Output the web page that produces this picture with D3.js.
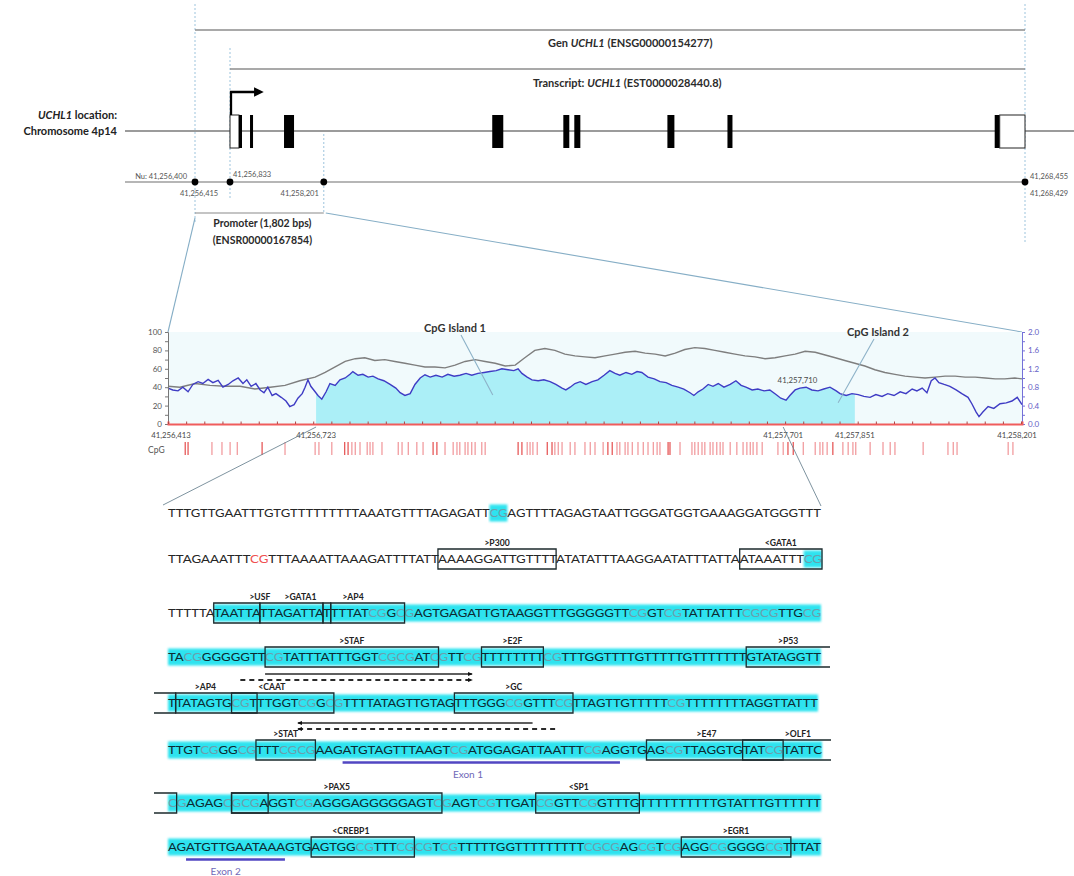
<!DOCTYPE html>
<html>
<head>
<meta charset="utf-8">
<script src="https://cdn.jsdelivr.net/npm/d3@7/dist/d3.min.js"></script>
<style>
  html, body { margin: 0; padding: 0; background: #fff; }
  svg { display: block; font-family: Lato, "Open Sans", "DejaVu Sans", sans-serif; }
</style>
</head>
<body>
<svg id="fig" width="1074" height="876" viewBox="0 0 1074 876"></svg>
<script>
// ---------------- UCHL1 gene model (chr4, bp) ----------------
const geneBounds = [41256415, 41268429];
const tssStart = 41256833;
const promoterBounds = [41256415, 41258201];
const exonStarts = [41256833, 41256964, 41257125, 41257621, 41260658, 41261695, 41261855, 41263213, 41264089, 41267987, 41268060];
const exonEnds   = [41256964, 41257008, 41257169, 41257767, 41260819, 41261782, 41261943, 41263315, 41264162, 41268060, 41268429];
const exonCoding = [false, true, true, true, true, true, true, true, true, true, false];

// ---------------- CpG profile of the promoter (offsets from 41,256,413) ----------------
const regionStart = 41256413;
const regionLength = 1788;
const islands = [[310, 1288], [1297, 1438]];
const axisPositions = [0, 310, 1288, 1438, 1788];
const gcPos = [0, 25, 57, 88, 119, 151, 182, 214, 245, 276, 308, 329, 350, 371, 392, 412, 433, 454, 475, 496, 517, 538, 559, 580, 601, 622, 643, 664, 685, 706, 727, 747, 768, 789, 810, 831, 852, 873, 894, 915, 936, 957, 978, 999, 1020, 1041, 1062, 1082, 1103, 1124, 1145, 1166, 1187, 1208, 1229, 1250, 1271, 1292, 1313, 1334, 1355, 1376, 1397, 1417, 1438, 1459, 1480, 1501, 1522, 1543, 1564, 1585, 1606, 1627, 1648, 1669, 1690, 1711, 1732, 1752, 1773, 1788];
const gcPercent = [41, 40, 44, 42, 41, 41, 38, 40, 42, 47, 51, 56, 62, 68, 71, 72, 69, 70, 68, 66, 64, 62, 62, 61, 64, 68, 70, 68, 66, 63, 64, 72, 80, 82, 80, 76, 74, 73, 72, 74, 76, 78, 79, 77, 76, 74, 77, 81, 83, 82, 80, 78, 76, 74, 73, 71, 72, 74, 76, 79, 78, 75, 72, 69, 66, 63, 59, 56, 54, 52, 51, 50, 51, 52, 52, 51, 51, 50, 49, 49, 50, 49];
const oePos = [0, 10, 21, 31, 42, 52, 63, 73, 84, 94, 105, 115, 126, 136, 147, 157, 165, 174, 184, 193, 201, 209, 218, 226, 237, 247, 255, 264, 272, 281, 287, 293, 299, 308, 314, 322, 331, 339, 350, 360, 371, 381, 387, 398, 408, 419, 429, 440, 452, 465, 477, 486, 496, 507, 517, 528, 538, 549, 561, 574, 586, 599, 611, 624, 636, 649, 662, 674, 687, 699, 712, 724, 733, 741, 752, 762, 775, 787, 800, 812, 825, 833, 842, 852, 863, 875, 888, 900, 913, 925, 936, 946, 959, 971, 982, 992, 1005, 1018, 1030, 1043, 1055, 1068, 1080, 1093, 1101, 1110, 1120, 1131, 1141, 1152, 1164, 1177, 1189, 1200, 1210, 1223, 1235, 1248, 1260, 1273, 1283, 1294, 1302, 1313, 1323, 1336, 1348, 1361, 1373, 1386, 1399, 1407, 1420, 1432, 1445, 1457, 1470, 1482, 1495, 1507, 1520, 1533, 1545, 1558, 1568, 1579, 1589, 1598, 1606, 1614, 1625, 1637, 1650, 1662, 1675, 1683, 1692, 1698, 1706, 1717, 1729, 1742, 1755, 1767, 1778, 1788];
const oeRatio = [0.78, 0.74, 0.72, 0.80, 0.70, 0.86, 0.92, 0.88, 0.97, 0.90, 0.95, 0.80, 0.86, 0.94, 1.00, 0.88, 0.96, 0.82, 0.88, 0.74, 0.68, 0.80, 0.62, 0.66, 0.58, 0.50, 0.38, 0.42, 0.56, 0.66, 0.80, 0.96, 0.82, 0.70, 0.62, 0.54, 0.70, 0.88, 0.84, 0.96, 1.00, 1.08, 1.14, 1.06, 1.08, 1.02, 1.04, 0.98, 0.94, 0.86, 0.78, 0.68, 0.62, 0.66, 0.86, 1.00, 1.07, 1.02, 1.06, 1.02, 1.08, 1.04, 1.06, 1.10, 1.06, 1.10, 1.12, 1.14, 1.16, 1.20, 1.18, 1.16, 1.20, 1.10, 1.02, 0.96, 0.94, 0.96, 0.92, 0.86, 0.78, 0.74, 0.80, 0.88, 0.92, 0.86, 0.92, 0.96, 1.06, 1.16, 1.10, 1.06, 1.12, 1.08, 1.14, 1.12, 1.02, 0.98, 0.92, 0.90, 0.84, 0.80, 0.76, 0.68, 0.62, 0.70, 0.76, 0.86, 0.82, 0.88, 0.80, 0.86, 0.94, 0.84, 0.80, 0.74, 0.76, 0.72, 0.74, 0.64, 0.56, 0.52, 0.62, 0.74, 0.78, 0.80, 0.74, 0.72, 0.76, 0.80, 0.72, 0.66, 0.62, 0.66, 0.64, 0.60, 0.58, 0.64, 0.60, 0.66, 0.62, 0.70, 0.66, 0.76, 0.72, 0.78, 0.68, 0.94, 1.00, 0.90, 0.86, 0.82, 0.74, 0.66, 0.58, 0.44, 0.26, 0.16, 0.26, 0.38, 0.34, 0.44, 0.46, 0.50, 0.58, 0.42];
const cpgSites = [36, 42, 92, 113, 130, 145, 197, 245, 308, 316, 343, 370, 377, 385, 392, 402, 417, 423, 429, 448, 482, 490, 503, 521, 534, 555, 563, 580, 597, 605, 611, 622, 628, 636, 643, 657, 664, 733, 741, 752, 758, 764, 773, 794, 804, 810, 817, 825, 842, 852, 873, 884, 894, 911, 921, 930, 940, 946, 957, 963, 972, 984, 995, 1005, 1016, 1024, 1030, 1047, 1051, 1072, 1097, 1103, 1110, 1118, 1124, 1135, 1141, 1149, 1156, 1162, 1177, 1191, 1204, 1212, 1219, 1225, 1233, 1244, 1277, 1288, 1298, 1309, 1330, 1355, 1365, 1371, 1380, 1392, 1413, 1424, 1434, 1440, 1470, 1497, 1512, 1522, 1581, 1633, 1644, 1652, 1759, 1769];
const strongSites = [1047, 1051, 1298, 1309, 1392, 36, 42, 197, 370, 377, 555, 563, 733, 741, 794, 804, 921, 930];
const islandNames = ["CpG Island 1", "CpG Island 2"];
const islandPointers = [[680, 0.63], [1403, 0.46]];

// ---------------- bisulfite-converted sequence of CpG island 1 ----------------
const seqRows = [
  "TTTGTTGAATTTGTGTTTTTTTTTAAATGTTTTAGAGATTCGAGTTTTAGAGTAATTGGGATGGTGAAAGGATGGGTTT",
  "TTAGAAATTTCGTTTAAAATTAAAGATTTTATTAAAAGGATTGTTTTATATATTTAAGGAATATTTATTAATAAATTTCG",
  "TTTTTATAATTATTAGATTATTTTATCGGCGAGTGAGATTGTAAGGTTTGGGGGTTCGGTCGTATTATTTCGCGTTGCG",
  "TACGGGGGGTTCGTATTTATTTGGTCGCGATCGTTCGTTTTTTTTCGTTTGGTTTTGTTTTTGTTTTTTTGTATAGGTT",
  "TTATAGTGCGTTTGGTCGGCGTTTTATAGTTGTAGTTTGGGCGGTTTCGTTAGTTGTTTTTCGTTTTTTTTAGGTTATTT",
  "TTGTCGGGCGTTTCGCGAAGATGTAGTTTAAGTCGATGGAGATTAATTTCGAGGTGAGCGTTAGGTGTATCGTATTC",
  "CGAGAGCGCGAGGTCGAGGGAGGGGGAGTCGAGTCGTTGATCGGTTCGGTTTGTTTTTTTTTTGTATTTGTTTTTT",
  "AGATGTTGAATAAAGTGAGTGGCGTTTCGCGTCGTTTTTGGTTTTTTTTTCGCGAGCGTCGAGGCGGGGGCGTTTAT"
];
const shadeRanges = [[[40, 42]], [[78, 80]], [[6, 79]], [[0, 79]], [[0, 80]], [[0, 77]], [[0, 76]], [[0, 77]]];
const motifs = [
  { row: 1, from: 33, to: 47, name: ">P300" },
  { row: 1, from: 70, to: 80, name: "<GATA1" },
  { row: 2, from: 6, to: 12, name: ">USF", at: 12 },
  { row: 2, from: 12, to: 20, name: ">GATA1", at: 17 },
  { row: 2, from: 20, to: 21, name: "" },
  { row: 2, from: 21, to: 30, name: ">AP4", at: 24 },
  { row: 3, from: 11, to: 32, name: ">STAF" },
  { row: 3, from: 37, to: 45, name: ">E2F" },
  { row: 3, from: 70, to: 79, name: ">P53", open: "right" },
  { row: 4, from: 0, to: 1, name: "", open: "left" },
  { row: 4, from: 1, to: 11, name: ">AP4", at: 5 },
  { row: 4, from: 8, to: 20, name: "<CAAT", at: 13 },
  { row: 4, from: 35, to: 49, name: ">GC" },
  { row: 5, from: 10, to: 17, name: ">STAT" },
  { row: 5, from: 56, to: 72, name: ">E47", at: 63 },
  { row: 5, from: 67, to: 77, name: ">OLF1", open: "right", at: 74 },
  { row: 6, from: 0, to: 1, name: "", open: "left" },
  { row: 6, from: 7, to: 11, name: "" },
  { row: 6, from: 7, to: 30, name: ">PAX5" },
  { row: 6, from: 41, to: 53, name: "<SP1", at: 46 },
  { row: 7, from: 17, to: 29, name: "<CREBP1", at: 21.5 },
  { row: 7, from: 61, to: 73, name: ">EGR1" }
];
const primers = [
  { row: 3, from: 11, to: 36, dashed: false, dir: "right" },
  { row: 3, from: 8, to: 36, dashed: true, dir: "right" },
  { row: 4, from: 16, to: 44, dashed: false, dir: "left" },
  { row: 4, from: 16, to: 47, dashed: true, dir: "left" }
];
const exonMarks = [
  { row: 5, from: 20, to: 53, name: "Exon 1", at: 35 },
  { row: 7, from: 2, to: 14, name: "Exon 2", at: 7 }
];

// ============================================================
const svg = d3.select("#fig");
const defs = svg.append("defs");
defs.append("marker").attr("id", "tssHead").attr("viewBox", "0 0 10 10")
  .attr("refX", 2).attr("refY", 5).attr("markerWidth", 4.2).attr("markerHeight", 4.2)
  .attr("orient", "auto").attr("markerUnits", "strokeWidth")
  .append("path").attr("d", "M0,0 L10,5 L0,10 z").attr("fill", "#000");
defs.append("marker").attr("id", "primerHead").attr("viewBox", "0 0 10 10")
  .attr("refX", 8).attr("refY", 5).attr("markerWidth", 5).attr("markerHeight", 5)
  .attr("orient", "auto-start-reverse").attr("markerUnits", "userSpaceOnUse")
  .append("path").attr("d", "M0,1 L10,5 L0,9 z").attr("fill", "#111");
defs.append("filter").attr("id", "soft").attr("x", "-5%").attr("y", "-40%").attr("width", "110%").attr("height", "180%")
  .append("feGaussianBlur").attr("stdDeviation", 0.9);

const fmt = d3.format(",");

// ---------------- gene track ----------------
const xG = d3.scaleLinear().domain([geneBounds[0], tssStart, geneBounds[1]]).range([195, 230, 1025]);
const guide = svg.append("g").attr("stroke", "#9dc4dd").attr("stroke-width", 1).attr("stroke-dasharray", "2,2");
guide.append("line").attr("x1", xG(geneBounds[0])).attr("x2", xG(geneBounds[0])).attr("y1", 4).attr("y2", 222);
guide.append("line").attr("x1", xG(tssStart)).attr("x2", xG(tssStart)).attr("y1", 48).attr("y2", 200);
guide.append("line").attr("x1", xG(promoterBounds[1])).attr("x2", xG(promoterBounds[1])).attr("y1", 134).attr("y2", 212);
guide.append("line").attr("x1", xG(geneBounds[1])).attr("x2", xG(geneBounds[1])).attr("y1", 4).attr("y2", 244);

svg.append("line").attr("x1", xG(geneBounds[0])).attr("x2", xG(geneBounds[1])).attr("y1", 30).attr("y2", 30)
  .attr("stroke", "#8d8d8d").attr("stroke-width", 1.6);
svg.append("line").attr("x1", xG(tssStart)).attr("x2", xG(geneBounds[1])).attr("y1", 69).attr("y2", 69)
  .attr("stroke", "#8d8d8d").attr("stroke-width", 1.6);

const geneTitle = svg.append("text").attr("x", 548).attr("y", 47).attr("font-size", 11).attr("font-weight", 700).attr("fill", "#2b2b2b");
geneTitle.append("tspan").text("Gen ");
geneTitle.append("tspan").attr("font-style", "italic").text("UCHL1");
geneTitle.append("tspan").text(" (ENSG00000154277)");
const txTitle = svg.append("text").attr("x", 533).attr("y", 87).attr("font-size", 11).attr("font-weight", 700).attr("fill", "#2b2b2b");
txTitle.append("tspan").text("Transcript: ");
txTitle.append("tspan").attr("font-style", "italic").text("UCHL1");
txTitle.append("tspan").text(" (EST0000028440.8)");

const locLabel = svg.append("g").attr("font-size", 11).attr("font-weight", 700).attr("fill", "#222").attr("text-anchor", "end");
const l1 = locLabel.append("text").attr("x", 117).attr("y", 119);
l1.append("tspan").attr("font-style", "italic").text("UCHL1");
l1.append("tspan").text(" location:");
locLabel.append("text").attr("x", 117).attr("y", 135).text("Chromosome 4p14");

svg.append("line").attr("x1", 125).attr("x2", 1074).attr("y1", 131).attr("y2", 131).attr("stroke", "#7a7a7a").attr("stroke-width", 1.3);

svg.append("g").selectAll("rect").data(exonStarts).join("rect")
  .attr("x", (d) => xG(d))
  .attr("width", (d, i) => Math.max(xG(exonEnds[i]) - xG(d), 2.6))
  .attr("y", 115).attr("height", 33)
  .attr("fill", (d, i) => exonCoding[i] ? "#000" : "#fff")
  .attr("stroke", (d, i) => exonCoding[i] ? "none" : "#222").attr("stroke-width", 1);

svg.append("path")
  .attr("d", `M${xG(tssStart) + 1},115 V92 H${xG(tssStart) + 26}`)
  .attr("fill", "none").attr("stroke", "#000").attr("stroke-width", 2.3)
  .attr("marker-end", "url(#tssHead)");

// coordinate line with markers
svg.append("line").attr("x1", 125).attr("x2", xG(geneBounds[1])).attr("y1", 182).attr("y2", 182)
  .attr("stroke", "#6e6e6e").attr("stroke-width", 1.2);
const markPos = [geneBounds[0], tssStart, promoterBounds[1], geneBounds[1]];
svg.append("g").selectAll("circle").data(markPos).join("circle")
  .attr("cx", (d) => xG(d)).attr("cy", 182).attr("r", 3.4).attr("fill", "#000");
const cl = svg.append("g").attr("font-size", 7.5).attr("fill", "#555");
cl.append("text").attr("x", xG(geneBounds[0]) - 8).attr("y", 179).attr("text-anchor", "end").text("Nu: " + fmt(geneBounds[0] - 15));
cl.append("text").attr("x", xG(geneBounds[0]) - 15).attr("y", 196).text(fmt(geneBounds[0]));
cl.append("text").attr("x", xG(tssStart) + 3).attr("y", 177).text(fmt(tssStart));
cl.append("text").attr("x", xG(promoterBounds[1]) - 5).attr("y", 196).attr("text-anchor", "end").text(fmt(promoterBounds[1]));
cl.append("text").attr("x", xG(geneBounds[1]) + 5).attr("y", 179).text(fmt(geneBounds[1] + 26));
cl.append("text").attr("x", xG(geneBounds[1]) + 5).attr("y", 196).text(fmt(geneBounds[1]));

// promoter bracket
svg.append("line").attr("x1", xG(promoterBounds[0])).attr("x2", xG(promoterBounds[1])).attr("y1", 213).attr("y2", 213)
  .attr("stroke", "#8a8a8a").attr("stroke-width", 1.2);
const promMid = (xG(promoterBounds[0]) + xG(promoterBounds[1])) / 2;
const pl = svg.append("g").attr("font-size", 10.5).attr("font-weight", 700).attr("fill", "#2a2a2a").attr("text-anchor", "middle");
pl.append("text").attr("x", promMid + 3).attr("y", 227).text(`Promoter (${fmt(promoterBounds[1] - promoterBounds[0] + 16)} bps)`);
pl.append("text").attr("x", promMid + 3).attr("y", 244).text("(ENSR00000167854)");

// ---------------- CpG profile ----------------
const px = d3.scaleLinear().domain([0, regionLength]).range([168, 1022]);
const yL = d3.scaleLinear().domain([0, 100]).range([424, 332]);
const yR = d3.scaleLinear().domain([0, 2]).range([424, 332]);

// zoom connectors from the promoter to the profile
const zoomLines = svg.append("g").attr("stroke", "#86aec6").attr("stroke-width", 1.1).attr("fill", "none");
zoomLines.append("line").attr("x1", xG(promoterBounds[0])).attr("y1", 218).attr("x2", px(0)).attr("y2", yL(100));
zoomLines.append("line").attr("x1", xG(promoterBounds[1]) + 2).attr("y1", 213).attr("x2", px(regionLength)).attr("y2", yL(100));

svg.append("rect").attr("x", px(0)).attr("y", yL(100)).attr("width", px(regionLength) - px(0)).attr("height", yL(0) - yL(100))
  .attr("fill", "#f1fafc");

const islandClip = defs.append("clipPath").attr("id", "islandClip");
islandClip.append("rect").attr("x", px(islands[0][0])).attr("y", yL(100))
  .attr("width", px(islands[1][1]) - px(islands[0][0])).attr("height", yL(0) - yL(100));

const oeData = oePos.map((p, i) => [p, oeRatio[i]]);
const gcData = gcPos.map((p, i) => [p, gcPercent[i]]);
svg.append("path").datum(oeData).attr("clip-path", "url(#islandClip)")
  .attr("d", d3.area().x((d) => px(d[0])).y0(yR(0)).y1((d) => yR(d[1])))
  .attr("fill", "#abeff7");
svg.append("path").datum(gcData)
  .attr("d", d3.line().x((d) => px(d[0])).y((d) => yL(d[1])))
  .attr("fill", "none").attr("stroke", "#7e7e7e").attr("stroke-width", 1.4);
svg.append("path").datum(oeData)
  .attr("d", d3.line().x((d) => px(d[0])).y((d) => yR(d[1])))
  .attr("fill", "none").attr("stroke", "#3f3cc4").attr("stroke-width", 1.4);

// axes
const leftAxis = svg.append("g").attr("transform", `translate(${px(0)},0)`)
  .call(d3.axisLeft(yL).tickValues(d3.range(0, 101, 10)).tickSize(3).tickFormat((d) => d % 20 === 0 ? d : ""));
leftAxis.selectAll("text").attr("font-size", 8).attr("fill", "#555").attr("font-family", "Lato, sans-serif");
leftAxis.selectAll("line,path").attr("stroke", "#777");
const rightAxis = svg.append("g").attr("transform", `translate(${px(regionLength)},0)`)
  .call(d3.axisRight(yR).tickValues(d3.range(0, 2.01, 0.2)).tickSize(3).tickFormat((d) => Math.round(d * 10) % 4 === 0 ? d3.format(".1f")(d) : ""));
rightAxis.selectAll("text").attr("font-size", 8).attr("fill", "#6560c6").attr("font-family", "Lato, sans-serif");
rightAxis.selectAll("line,path").attr("stroke", "#7470d8");
const bottomAxis = svg.append("g").attr("transform", `translate(0,${yL(0)})`)
  .call(d3.axisTop(px).tickValues(d3.range(0, regionLength, 38)).tickSize(2.5).tickFormat(""));
bottomAxis.select("path").attr("stroke", "#f05c5c").attr("stroke-width", 2);
bottomAxis.selectAll("line").attr("stroke", "#b04646");

svg.append("g").attr("font-size", 7.8).attr("fill", "#4a4a4a").attr("text-anchor", "middle")
  .selectAll("text").data(axisPositions).join("text")
  .attr("x", (d, i) => px(d) + (i === 0 ? 3 : i === axisPositions.length - 1 ? -5 : 0)).attr("y", 438)
  .text((d) => fmt(regionStart + d));
svg.append("text").attr("x", px(islands[1][0]) + 10).attr("y", 383).attr("font-size", 7.8).attr("fill", "#4a4a4a")
  .attr("text-anchor", "middle").text(fmt(regionStart + islands[1][0]));

// island call-outs
const calloutX = [455, 878];
const calloutY = [328, 332];
islandNames.forEach((name, i) => {
  svg.append("line").attr("x1", calloutX[i] + (i === 0 ? 6 : -4)).attr("y1", calloutY[i] + 7)
    .attr("x2", px(islandPointers[i][0])).attr("y2", yR(islandPointers[i][1]))
    .attr("stroke", "#8db2c8").attr("stroke-width", 1.1);
  svg.append("text").attr("x", calloutX[i]).attr("y", calloutY[i] + 4).attr("text-anchor", "middle")
    .attr("font-size", 11).attr("font-weight", 700).attr("fill", "#333").text(name);
});

// CpG site ticks
svg.append("text").attr("x", 148).attr("y", 453).attr("font-size", 8.5).attr("fill", "#555").text("CpG");
svg.append("g").selectAll("line").data(cpgSites).join("line")
  .attr("x1", (d) => px(d)).attr("x2", (d) => px(d)).attr("y1", 442).attr("y2", 455)
  .attr("stroke", (d) => strongSites.includes(d) ? "#e23c3c" : "#ef8a8e").attr("stroke-width", 1.1);

// connectors from the profile to the sequence
const seqLinks = svg.append("g").attr("stroke", "#6f8794").attr("stroke-width", 0.9);
seqLinks.append("line").attr("x1", px(islands[0][0])).attr("y1", 427).attr("x2", 163).attr("y2", 505);
seqLinks.append("line").attr("x1", px(islands[0][1])).attr("y1", 427).attr("x2", 821).attr("y2", 506);

// ---------------- annotated sequence ----------------
const rowCenter = [513, 559, 613, 657, 703, 750, 803, 847];
const rowEnd = [821, 822, 821, 821, 818, 822, 821, 821];
const rowLeft = 168;
const primerOffset = { 3: 17, 4: 20 };

seqRows.forEach((seq, r) => {
  const cy = rowCenter[r];
  const gRow = svg.append("g");
  const shadeG = gRow.append("g").attr("filter", "url(#soft)");
  const textEl = gRow.append("text").attr("x", rowLeft).attr("y", cy + 4.4)
    .attr("textLength", rowEnd[r] - rowLeft).attr("lengthAdjust", "spacingAndGlyphs")
    .attr("font-size", 12.2);
  const shaded = (i) => shadeRanges[r].some(([a, b]) => i >= a && i < b);
  const inCG = (i) => (seq[i] === "C" && seq[i + 1] === "G") || (seq[i] === "G" && seq[i - 1] === "C");
  const colorOf = (i) => inCG(i) ? (shaded(i) ? "#6aa0ad" : "#ef5050") : (shaded(i) ? "#0d2a32" : "#262626");
  let runs = [];
  for (let i = 0; i < seq.length; i++) {
    const c = colorOf(i);
    if (runs.length && runs[runs.length - 1].c === c) runs[runs.length - 1].s += seq[i];
    else runs.push({ c, s: seq[i] });
  }
  runs.forEach((run) => textEl.append("tspan").attr("fill", run.c).text(run.s));

  const node = textEl.node();
  const n = seq.length;
  const edge = (i) => i < n ? node.getStartPositionOfChar(i).x : node.getEndPositionOfChar(n - 1).x;
  const at = (v) => { const f = Math.floor(v); return edge(f) + (v - f) * (edge(Math.min(f + 1, n)) - edge(f)); };

  shadeRanges[r].forEach(([a, b]) => {
    const x1 = edge(a), x2 = edge(Math.min(b, n));
    shadeG.append("rect").attr("x", x1).attr("width", x2 - x1).attr("y", cy - 8.5).attr("height", 17).attr("fill", "#2fe3ef");
  });

  motifs.filter((m) => m.row === r).forEach((m) => {
    const x1 = edge(m.from), x2 = edge(Math.min(m.to, n));
    const top = cy - 10, bot = cy + 10;
    let d, left = x1, right = x2;
    if (m.open === "right") { right = rowEnd[r] + 9; d = `M${right},${top} H${x1} V${bot} H${right}`; }
    else if (m.open === "left") { left = rowLeft - 14; d = `M${left},${top} H${x2} V${bot} H${left}`; }
    else d = `M${x1},${top} H${x2} V${bot} H${x1} Z`;
    gRow.append("path").attr("d", d).attr("fill", "none").attr("stroke", "#1c2a2d").attr("stroke-width", 1.3);
    if (m.name) {
      const lx = m.at != null ? at(m.at) : (left + right) / 2;
      gRow.append("text").attr("x", lx).attr("y", cy - 13).attr("text-anchor", "middle")
        .attr("font-size", 8.6).attr("font-weight", 700).attr("fill", "#222").text(m.name);
    }
  });

  primers.filter((p) => p.row === r).forEach((p) => {
    const y = cy + primerOffset[r] + (p.dashed ? 6 : 0);
    const xa = edge(p.from), xb = edge(p.to);
    gRow.append("line").attr("x1", p.dir === "right" ? xa : xb).attr("x2", p.dir === "right" ? xb : xa)
      .attr("y1", y).attr("y2", y).attr("stroke", "#2a2a2a").attr("stroke-width", p.dashed ? 1.8 : 1.3)
      .attr("stroke-dasharray", p.dashed ? "5,4" : null)
      .attr("marker-end", "url(#primerHead)");
  });

  exonMarks.filter((e) => e.row === r).forEach((e) => {
    gRow.append("line").attr("x1", edge(e.from)).attr("x2", edge(e.to)).attr("y1", cy + 12.5).attr("y2", cy + 12.5)
      .attr("stroke", "#5146c2").attr("stroke-width", 2.4);
    gRow.append("text").attr("x", at(e.at)).attr("y", cy + 28).attr("text-anchor", "middle")
      .attr("font-size", 10).attr("fill", "#6f69b8").text(e.name);
  });
});
</script>
</body>
</html>
